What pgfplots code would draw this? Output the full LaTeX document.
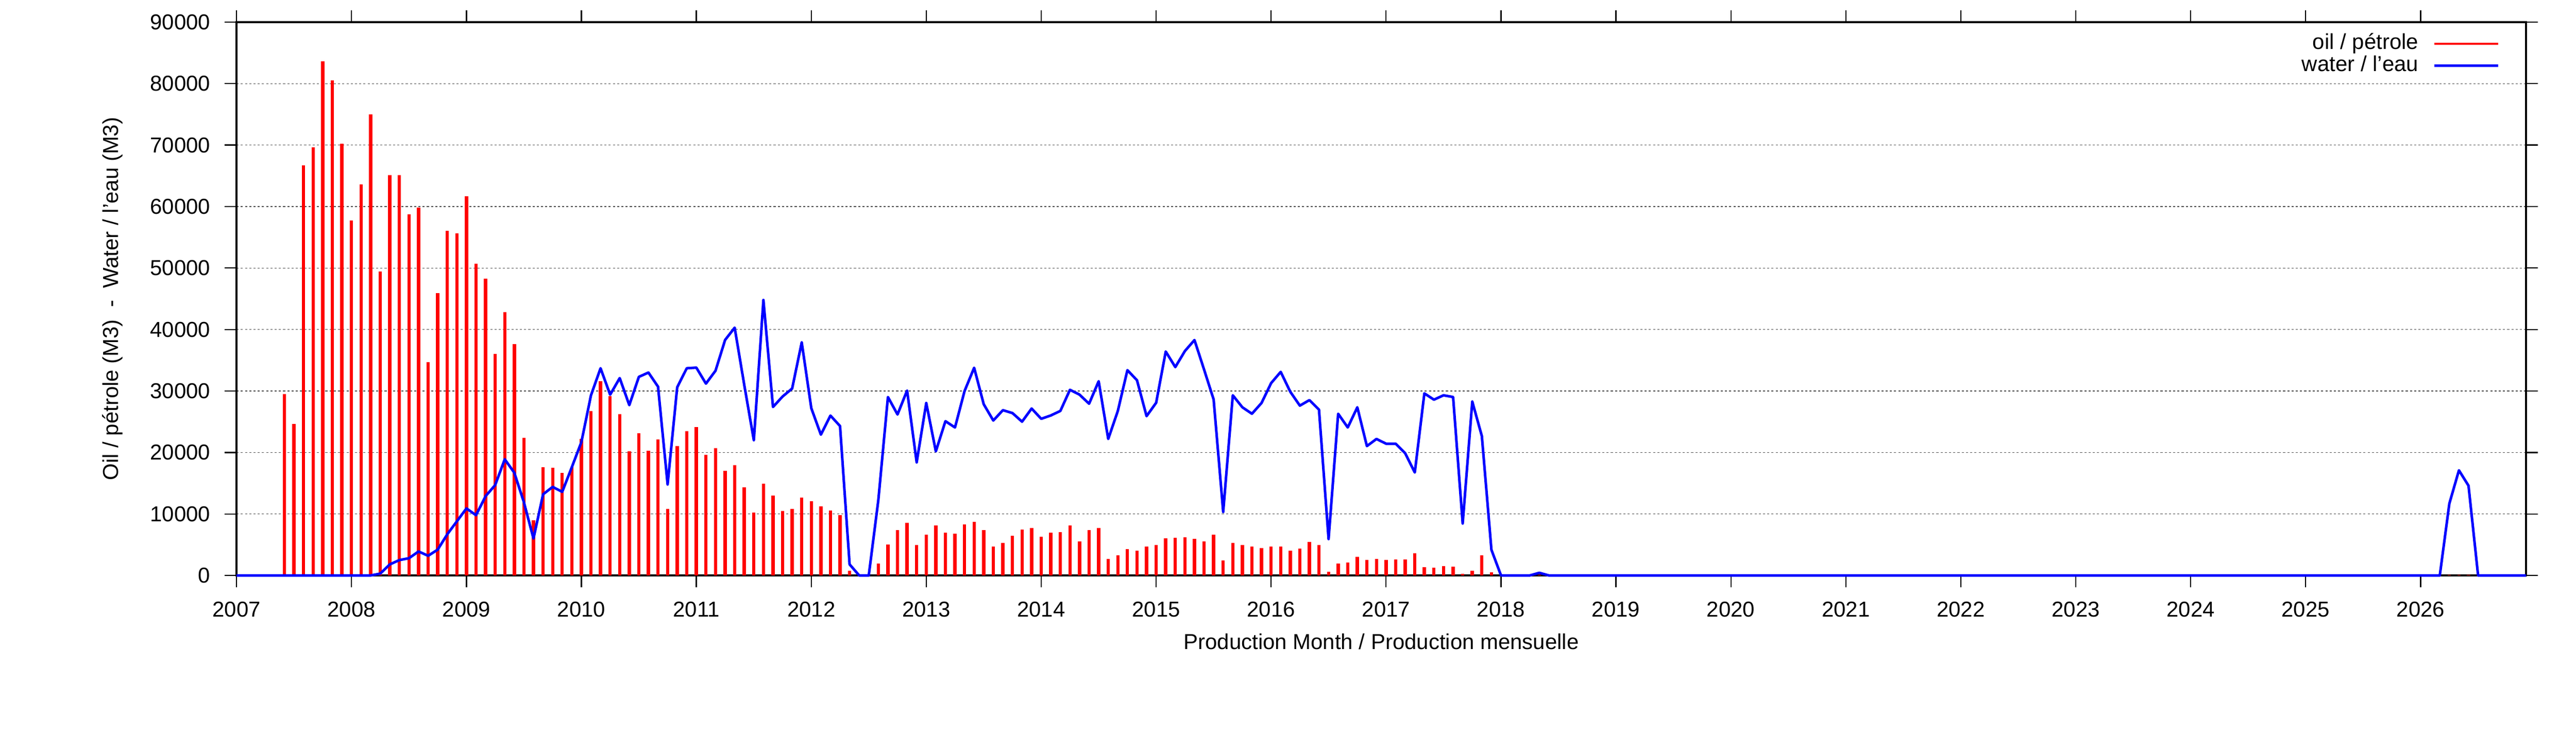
\documentclass[border=0pt]{standalone}
\usepackage{pgfplots}
\usepackage{pgfplotstable}
\pgfplotsset{compat=1.18}
\usepackage{fontspec}
\setmainfont{Liberation Sans}

\pgfplotstableread{
y m oil water
2007 1 0 0
2007 5 0 0
2007 6 29500 0
2007 7 24600 0
2007 8 66700 0
2007 9 69600 0
2007 10 83600 0
2007 11 80500 0
2007 12 70200 0
2008 1 57700 0
2008 2 63600 0
2008 3 75000 0
2008 4 49400 300
2008 5 65100 1800
2008 6 65100 2500
2008 7 58700 2800
2008 8 59800 3900
2008 9 34700 3200
2008 10 45900 4200
2008 11 56100 6700
2008 12 55600 8800
2009 1 61700 10900
2009 2 50700 9800
2009 3 48300 12900
2009 4 36000 14700
2009 5 42800 18900
2009 6 37600 16700
2009 7 22400 11900
2009 8 9000 6000
2009 9 17600 13200
2009 10 17500 14400
2009 11 16700 13600
2009 12 17700 17600
2010 1 22200 21700
2010 2 26700 29300
2010 3 31600 33700
2010 4 29200 29400
2010 5 26200 32100
2010 6 20200 27700
2010 7 23100 32300
2010 8 20300 33000
2010 9 22100 30700
2010 10 10800 14800
2010 11 21000 30600
2010 12 23500 33700
2011 1 24100 33800
2011 2 19600 31200
2011 3 20700 33300
2011 4 17000 38300
2011 5 17900 40300
2011 6 14300 31000
2011 7 10200 22000
2011 8 14900 44800
2011 9 13000 27400
2011 10 10500 29100
2011 11 10800 30400
2011 12 12700 37900
2012 1 12100 27200
2012 2 11200 22900
2012 3 10600 26000
2012 4 9800 24300
2012 5 800 1800
2012 6 0 0
2012 7 0 0
2012 8 1950 12270
2012 9 5060 29020
2012 10 7360 26180
2012 11 8570 30070
2012 12 4990 18390
2013 1 6660 28050
2013 2 8140 20180
2013 3 6970 25090
2013 4 6820 24070
2013 5 8300 30000
2013 6 8730 33780
2013 7 7360 27850
2013 8 4710 25200
2013 9 5300 26880
2013 10 6470 26410
2013 11 7440 25010
2013 12 7750 27150
2014 1 6310 25480
2014 2 6970 26020
2014 3 7050 26760
2014 4 8140 30190
2014 5 5530 29410
2014 6 7360 27930
2014 7 7750 31590
2014 8 2730 22200
2014 9 3310 26760
2014 10 4320 33390
2014 11 4010 31750
2014 12 4710 25910
2015 1 4990 28090
2015 2 6080 36420
2015 3 6150 33890
2015 4 6230 36500
2015 5 5920 38290
2015 6 5530 33500
2015 7 6660 28630
2015 8 2420 10320
2015 9 5300 29300
2015 10 4990 27350
2015 11 4710 26300
2015 12 4480 28050
2016 1 4710 31280
2016 2 4710 33110
2016 3 4010 29880
2016 4 4400 27620
2016 5 5450 28520
2016 6 4910 26960
2016 7 580 5920
2016 8 1950 26300
2016 9 2100 24070
2016 10 3000 27350
2016 11 2490 21040
2016 12 2650 22200
2017 1 2490 21430
2017 2 2570 21430
2017 3 2570 19870
2017 4 3620 16750
2017 5 1320 29610
2017 6 1250 28590
2017 7 1480 29300
2017 8 1400 29020
2017 9 230 8450
2017 10 760 28280
2017 11 3290 22670
2017 12 530 4170
2018 1 0 0
2018 4 0 0
2018 5 100 430
2018 6 0 0
2026 3 0 0
2026 4 120 11700
2026 5 120 17100
2026 6 120 14600
2026 7 0 0
2026 12 0 0
}\data

\begin{document}
\begin{tikzpicture}
\useasboundingbox (-100.7pt,-73.8pt) rectangle (995.9pt,245pt);
\begin{axis}[
  at={(0,0)}, anchor=south west,
  scale only axis,
  width=974.6pt, height=235.6pt,
  xmin=2007, xmax=2026.9167,
  ymin=0, ymax=90000,
  xtick={2007,2008,...,2026},
  ytick={0,10000,...,90000},
  scaled y ticks=false,
  scaled x ticks=false,
  clip=false,
  font=\fontsize{9.2}{11}\selectfont,
  /pgf/number format/assume math mode=true,
  /pgf/number format/1000 sep={},
  tick align=outside,
  major tick length=5pt,
  tick style={line width=0.5pt, black},
  axis line style={line width=0.9pt},
  ymajorgrids,
  major grid style={black!70, line width=0.3pt, dash pattern=on 0.9pt off 0.9pt},
  xticklabel style={anchor=north, inner sep=0pt, yshift=-5.9pt},
  yticklabel style={anchor=east, inner sep=0pt, xshift=-6pt},
  every axis x label/.style={at={([yshift=-28.2pt]rel axis cs:0.5,0)}, anchor=center},
  every axis y label/.style={at={([xshift=-52.7pt]rel axis cs:0,0.5)}, anchor=center, rotate=90},
  xlabel={Production Month / Production mensuelle},
  ylabel={Oil / pétrole (M3)\ \ -\ \ Water / l’eau (M3)},
  legend plot pos=right,
  legend cell align=right,
  legend image code/.code={\draw[#1, line width=1pt] (0pt,0pt) -- (27.2pt,0pt);},
  legend style={draw=none, fill=none, inner sep=0pt, outer sep=0pt,
    at={(rel axis cs:1,1)}, anchor=north east, xshift=-11.3pt, yshift=-4.8pt,
    row sep=0.6pt, column sep=6.3pt,
    nodes={inner sep=0pt, text height=6.8pt, text depth=2pt},
    font=\fontsize{9.2}{11}\selectfont},
]
\addplot[ycomb, red, line width=1.4pt] table[x expr=\thisrow{y}+(\thisrow{m}-1)/12, y=oil] {\data};
\addlegendentry{oil / pétrole}
\addplot[blue, line width=1.1pt, line join=round] table[x expr=\thisrow{y}+(\thisrow{m}-1)/12, y=water] {\data};
\addlegendentry{water / l’eau}
\end{axis}
\end{tikzpicture}
\end{document}
